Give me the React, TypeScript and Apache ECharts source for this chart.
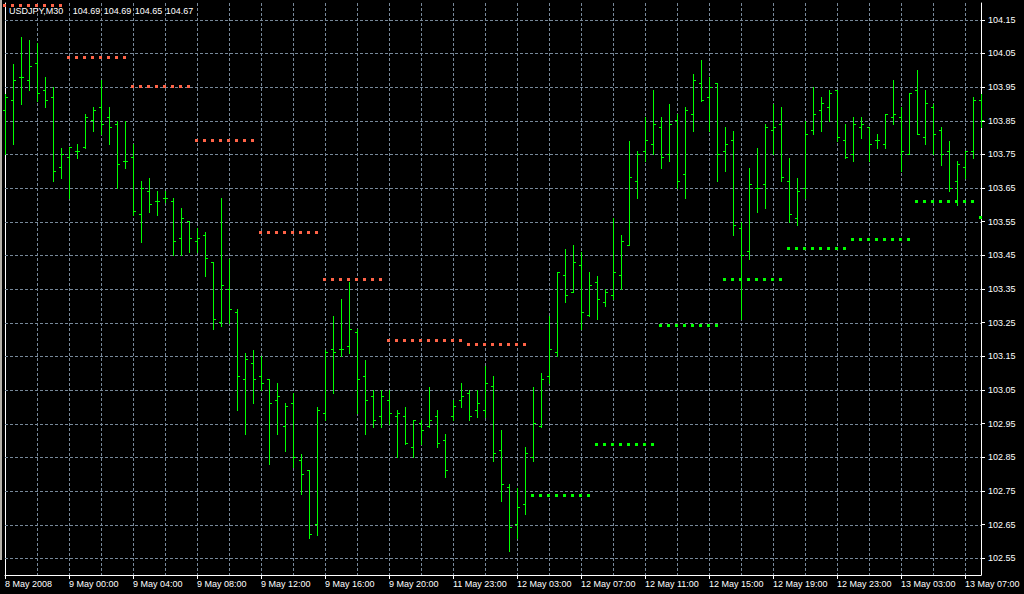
import React, { useEffect, useRef } from "react";
import * as echarts from "echarts";

// ---- data (USDJPY, M30) ----
const sessionStartsUTC = [
  [2008, 4, 8, 20, 0],
  [2008, 4, 11, 23, 0],
];
const sessionBarCounts = [56, 67];
const monthNames = ["Jan", "Feb", "Mar", "Apr", "May", "Jun", "Jul", "Aug", "Sep", "Oct", "Nov", "Dec"];
const firstLabel = "8 May 2008";

const opens = [
  103.88, 103.91, 103.98, 103.97, 104.02, 103.94, 103.92, 103.71, 103.74, 103.76,
  103.77, 103.85, 103.89, 103.86, 103.84, 103.73, 103.74, 103.57, 103.64, 103.61,
  103.62, 103.61, 103.5, 103.55, 103.49, 103.51, 103.43, 103.25, 103.35, 103.28,
  103.08, 103.13, 103.09, 103.08, 103.02, 102.94, 103.01, 102.84, 102.81, 102.65,
  102.98, 103.17, 103.17, 103.18, 103.22, 103.09, 103.03, 102.97, 103.02, 102.97,
  102.97, 102.88, 102.95, 102.94, 102.97, 102.9, 102.97, 103.02, 103.04, 102.99,
  102.99, 103.06, 102.87, 102.76, 102.65, 102.71, 102.85, 102.94, 103.09, 103.16,
  103.39, 103.34, 103.42, 103.27, 103.37, 103.31, 103.33, 103.39, 103.48, 103.67,
  103.76, 103.78, 103.83, 103.75, 103.85, 103.69, 103.87, 103.96, 103.92, 103.96,
  103.76, 103.79, 103.53, 103.46, 103.65, 103.66, 103.82, 103.84, 103.67, 103.56,
  103.65, 103.82, 103.88, 103.89, 103.94, 103.79, 103.75, 103.83, 103.83, 103.79,
  103.78, 103.86, 103.86, 103.75, 103.94, 103.8, 103.89, 103.82, 103.76, 103.67,
  103.71, 103.76, 103.91,
];
const highs = [
  103.93, 104.02, 104.1, 104.09, 104.08, 103.98, 103.95, 103.77, 103.77, 103.78,
  103.87, 103.89, 103.97, 103.89, 103.85, 103.85, 103.78, 103.67, 103.68, 103.64,
  103.64, 103.62, 103.59, 103.55, 103.53, 103.52, 103.43, 103.62, 103.44, 103.29,
  103.16, 103.17, 103.15, 103.08, 103.07, 103.01, 103.04, 102.86, 102.81, 103.0,
  103.17, 103.27, 103.32, 103.37, 103.23, 103.14, 103.05, 103.05, 103.05, 102.99,
  103.0, 102.96, 102.96, 103.06, 102.99, 102.92, 103.02, 103.07, 103.05, 103.05,
  103.12, 103.09, 102.93, 102.77, 102.76, 102.88, 103.06, 103.1, 103.27, 103.4,
  103.47, 103.48, 103.46, 103.4, 103.39, 103.35, 103.56, 103.51, 103.79, 103.76,
  103.86, 103.94, 103.86, 103.9, 103.87, 103.89, 103.99, 104.03, 103.98, 103.96,
  103.83, 103.82, 103.55, 103.71, 103.77, 103.84, 103.9, 103.89, 103.74, 103.68,
  103.85, 103.95, 103.92, 103.94, 103.94, 103.84, 103.86, 103.86, 103.83, 103.81,
  103.87, 103.97, 103.89, 103.93, 104.0, 103.94, 103.9, 103.83, 103.79, 103.73,
  103.76, 103.92, 103.93,
];
const lows = [
  103.75, 103.78, 103.9, 103.94, 103.91, 103.89, 103.67, 103.68, 103.62, 103.74,
  103.77, 103.82, 103.81, 103.78, 103.65, 103.71, 103.57, 103.49, 103.58, 103.57,
  103.61, 103.45, 103.45, 103.46, 103.46, 103.39, 103.23, 103.24, 103.25, 102.99,
  102.92, 103.01, 103.05, 102.83, 102.92, 102.87, 102.82, 102.74, 102.61, 102.62,
  102.96, 103.04, 103.15, 103.16, 102.98, 102.92, 102.94, 102.94, 102.95, 102.85,
  102.89, 102.85, 102.89, 102.94, 102.88, 102.79, 102.96, 103.0, 102.96, 102.97,
  102.97, 102.84, 102.72, 102.57, 102.61, 102.68, 102.84, 102.94, 103.07, 103.15,
  103.31, 103.34, 103.23, 103.27, 103.26, 103.3, 103.32, 103.35, 103.48, 103.62,
  103.73, 103.75, 103.71, 103.73, 103.65, 103.62, 103.82, 103.91, 103.82, 103.67,
  103.7, 103.51, 103.26, 103.44, 103.58, 103.59, 103.75, 103.67, 103.55, 103.54,
  103.62, 103.81, 103.82, 103.85, 103.79, 103.74, 103.73, 103.8, 103.73, 103.77,
  103.77, 103.84, 103.7, 103.75, 103.81, 103.78, 103.75, 103.72, 103.64, 103.6,
  103.68, 103.74, 103.83,
];
const closes = [
  103.92, 103.97, 103.98, 104.01, 103.93, 103.91, 103.7, 103.75, 103.77, 103.76,
  103.86, 103.88, 103.84, 103.83, 103.72, 103.73, 103.58, 103.65, 103.6, 103.61,
  103.62, 103.49, 103.56, 103.5, 103.5, 103.44, 103.26, 103.36, 103.29, 103.09,
  103.14, 103.08, 103.07, 103.01, 103.03, 103.0, 102.85, 102.8, 102.62, 102.99,
  103.16, 103.16, 103.17, 103.23, 103.08, 103.02, 102.96, 103.03, 102.98, 102.98,
  102.89, 102.96, 102.93, 102.96, 102.89, 102.81, 103.0, 103.03, 102.97, 103.01,
  103.07, 102.86, 102.77, 102.64, 102.7, 102.86, 102.95, 103.08, 103.17, 103.4,
  103.33, 103.43, 103.28, 103.36, 103.32, 103.34, 103.4, 103.49, 103.68, 103.75,
  103.79, 103.84, 103.74, 103.84, 103.67, 103.88, 103.97, 103.91, 103.95, 103.75,
  103.78, 103.54, 103.45, 103.66, 103.65, 103.83, 103.83, 103.68, 103.57, 103.64,
  103.81, 103.87, 103.9, 103.93, 103.8, 103.74, 103.84, 103.84, 103.78, 103.79,
  103.87, 103.87, 103.76, 103.93, 103.81, 103.9, 103.81, 103.75, 103.65, 103.72,
  103.76, 103.91, 103.85,
];

// stop-level dots (one value per block of bars)
const stopBlockStarts = [0, 8, 16, 24, 32, 40, 48, 58, 66, 74, 82, 90, 98, 106, 114, 122];
const stopLevels = [
  104.195, 104.04, 103.953, 103.792, 103.518, 103.381, 103.197, 103.188,
  102.737, 102.89, 103.242, 103.381, 103.473, 103.5, 103.613, 103.563,
];
const stopAbove = [true, true, true, true, true, true, true, true, false, false, false, false, false, false, false, false];

// price scale
const priceMin = 102.5;
const priceMax = 104.2;
const priceTicks = [
  102.55, 102.65, 102.75, 102.85, 102.95, 103.05, 103.15, 103.25, 103.35,
  103.45, 103.55, 103.65, 103.75, 103.85, 103.95, 104.05, 104.15,
];

const headerSymbol = "USDJPY,M30";
const headerQuotes = ["104.69", "104.69", "104.65", "104.67"];

function buildCategories(): string[] {
  const out: string[] = [];
  sessionStartsUTC.forEach((s, k) => {
    const t0 = Date.UTC(s[0], s[1], s[2], s[3], s[4]);
    for (let j = 0; j < sessionBarCounts[k]; j++) {
      const d = new Date(t0 + j * 30 * 60 * 1000);
      const hh = String(d.getUTCHours()).padStart(2, "0");
      const mm = String(d.getUTCMinutes()).padStart(2, "0");
      out.push(`${d.getUTCDate()} ${monthNames[d.getUTCMonth()]} ${hh}:${mm}`);
    }
  });
  return out;
}

const FONT = '"Liberation Sans", Arial, sans-serif';
const BAR_COLOR = "#00FF00";
const RED = "#FF6347";
const GREEN = "#00FF00";
const GRID = "#778899";

export default function App() {
  const ref = useRef<HTMLDivElement>(null);

  useEffect(() => {
    if (!ref.current) return;
    const chart = echarts.init(ref.current, undefined, { renderer: "svg" });
    const categories = buildCategories();
    const lastIdx = categories.length - 1;

    const ohlc = opens.map((o, i) => [i, o, highs[i], lows[i], closes[i]]);

    const stops: number[][] = [];
    stopBlockStarts.forEach((start, b) => {
      const end = b + 1 < stopBlockStarts.length ? stopBlockStarts[b + 1] : categories.length;
      for (let i = start; i < end; i++) stops.push([i, stopLevels[b], stopAbove[b] ? 1 : 0]);
    });

    const headerX = [9, 72.7, 103.7, 134.7, 165.7];
    const headerTexts = [headerSymbol, ...headerQuotes];

    chart.setOption({
      animation: false,
      backgroundColor: "#000",
      grid: { left: 5, top: 3, width: 976, height: 572, show: false },
      xAxis: {
        type: "category",
        data: categories,
        boundaryGap: false,
        axisLine: { show: true, onZero: false, lineStyle: { color: "#fff", width: 1 } },
        axisTick: { show: true, interval: 7, length: 4, lineStyle: { color: "#fff" } },
        axisLabel: {
          interval: 7,
          align: "left",
          margin: 4,
          color: "#fff",
          fontSize: 9,
          fontFamily: FONT,
          formatter: (v: string, idx: number) => (idx === 0 ? firstLabel : v),
        },
        splitLine: { show: true, interval: 3, lineStyle: { color: GRID, type: [3, 2], width: 1 } },
      },
      yAxis: [
        {
          type: "value",
          position: "right",
          min: priceMin,
          max: priceMax,
          axisLine: { show: true, onZero: false, lineStyle: { color: "#fff", width: 1 } },
          axisTick: { show: true, length: 4, customValues: priceTicks, lineStyle: { color: "#fff" } },
          axisLabel: {
            customValues: priceTicks,
            color: "#fff",
            fontSize: 9,
            fontFamily: FONT,
            margin: 7,
            formatter: (v: number) => Number(v).toFixed(2),
          },
          splitLine: { show: false },
        },
        {
          type: "value",
          position: "left",
          min: priceMin,
          max: priceMax,
          axisLine: { show: true, onZero: false, lineStyle: { color: "#fff", width: 1 } },
          axisTick: { show: false },
          axisLabel: { show: false },
          splitLine: { show: false },
        },
      ],
      series: [
        {
          type: "custom",
          name: "gridlines",
          data: priceTicks.map((v) => [v]),
          encode: { y: 0 },
          z: 1,
          silent: true,
          renderItem: (_p: any, api: any) => {
            const v = api.value(0);
            const a = api.coord([0, v]);
            const b = api.coord([lastIdx, v]);
            const y = Math.round(a[1]) + 0.5;
            return {
              type: "line",
              shape: { x1: a[0], y1: y, x2: b[0], y2: y },
              style: { stroke: GRID, lineWidth: 1, lineDash: [3, 2], fill: null },
            };
          },
        },
        {
          type: "custom",
          name: "stops",
          data: stops,
          encode: { x: 0, y: 1 },
          z: 3,
          renderItem: (_p: any, api: any) => {
            const pt = api.coord([api.value(0), api.value(1)]);
            const X = Math.round(pt[0]);
            const Y = Math.round(pt[1]);
            return {
              type: "rect",
              shape: { x: X - 2, y: Y - 1, width: 3, height: 3 },
              style: { fill: api.value(2) === 1 ? RED : GREEN },
            };
          },
        },
        {
          type: "custom",
          name: "USDJPY",
          data: ohlc,
          encode: { x: 0, y: [1, 2, 3, 4] },
          z: 2,
          renderItem: (_p: any, api: any) => {
            const i = api.value(0);
            const po = api.coord([i, api.value(1)]);
            const ph = api.coord([i, api.value(2)]);
            const pl = api.coord([i, api.value(3)]);
            const pc = api.coord([i, api.value(4)]);
            const X = Math.round(po[0]);
            const yo = Math.floor(po[1]) + 0.5;
            const yc = Math.floor(pc[1]) + 0.5;
            const st = { stroke: BAR_COLOR, lineWidth: 1, fill: null };
            return {
              type: "group",
              children: [
                { type: "line", shape: { x1: X + 0.5, y1: Math.round(ph[1]), x2: X + 0.5, y2: Math.round(pl[1]) + 1 }, style: st },
                { type: "line", shape: { x1: X - 2, y1: yo, x2: X + 1, y2: yo }, style: st },
                { type: "line", shape: { x1: X, y1: yc, x2: X + 3, y2: yc }, style: st },
              ],
            };
          },
        },
      ],
      graphic: [
        { type: "rect", left: 0, top: 0, shape: { x: 0, y: 0, width: 2, height: 560 }, style: { fill: "#b4b0a8" }, silent: true },
        ...headerTexts.map((t, k) => ({
          type: "text",
          x: headerX[k],
          y: 10.5,
          z: 10,
          silent: true,
          style: { text: t, fill: "#fff", font: `9px ${FONT}`, verticalAlign: "middle", textVerticalAlign: "middle" },
        })),
      ],
    });

    return () => chart.dispose();
  }, []);

  return (
    <div
      ref={ref}
      style={{ position: "fixed", left: 0, top: 0, width: 1024, height: 594, background: "#000" }}
    />
  );
}
